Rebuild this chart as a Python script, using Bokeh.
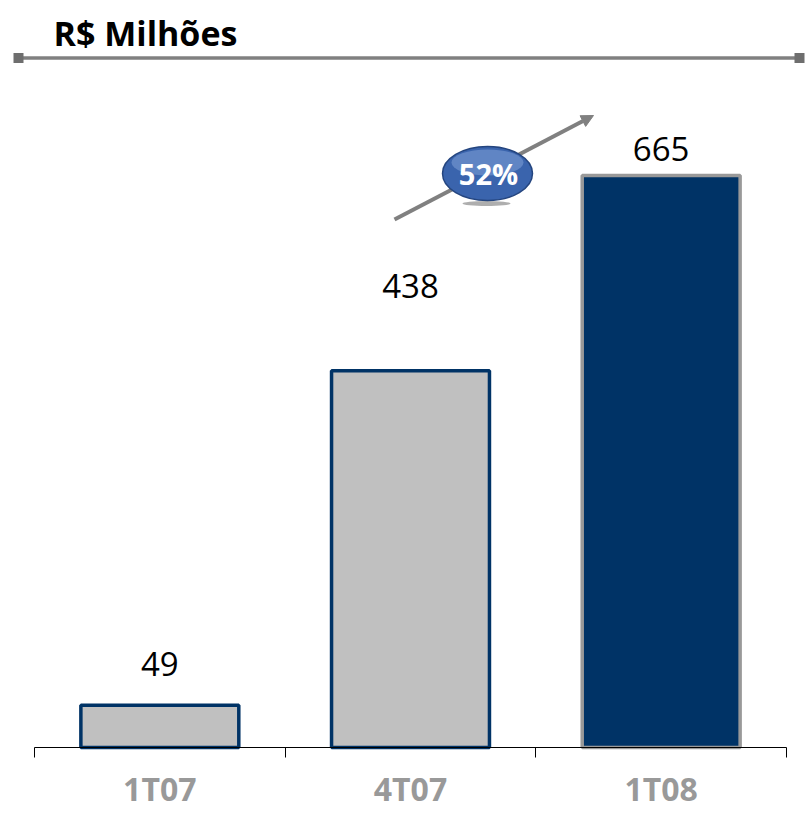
from bokeh.plotting import figure
from bokeh.models import Range1d, FixedTicker, ColumnDataSource, Arrow, NormalHead
from bokeh.core.properties import value
from bokeh.embed import file_html
from bokeh.resources import INLINE

# ---- data ----
categories = ["1T07", "4T07", "1T08"]
values = [49, 438, 665]
growth_label = "52%"
title_text = "R$ Milhões"

# ---- styles ----
bar_fill = ["#C0C0C0", "#C0C0C0", "#003366"]
bar_line = ["#003366", "#003366", "#999999"]
label_offsets_px = [-41, -85, -27]

PX_PER_X = 250.67
PX_PER_Y = 0.86
W, H = 807, 813
BASE_Y = 747     # pixel row of the baseline
LEFT_X = 34      # pixel column of x = 0

xs = [i + 0.5 for i in range(len(categories))]

p = figure(width=W, height=H, output_backend="svg", toolbar_location=None,
           x_range=Range1d(-LEFT_X / PX_PER_X, (W - LEFT_X) / PX_PER_X),
           y_range=Range1d(-(H - BASE_Y) / PX_PER_Y, BASE_Y / PX_PER_Y),
           y_axis_location=None,
           min_border_left=0, min_border_right=0, min_border_top=0,
           min_border_bottom=0)
p.outline_line_color = None
p.grid.visible = False
p.background_fill_color = "white"
p.border_fill_color = "white"

ax = p.xaxis[0]
ax.fixed_location = 0
ax.ticker = FixedTicker(ticks=xs, minor_ticks=list(range(len(categories) + 1)))
ax.major_label_overrides = {x: c for x, c in zip(xs, categories)}
ax.bounds = (0, len(categories))
ax.axis_line_color = "black"
ax.axis_line_width = 1
ax.major_tick_out = 0
ax.major_tick_in = 0
ax.minor_tick_out = 10
ax.minor_tick_in = 0
ax.minor_tick_line_color = "black"
ax.major_label_standoff = 9
ax.major_label_text_font = "Open Sans"
ax.major_label_text_font_style = "bold"
ax.major_label_text_font_size = "32px"
ax.major_label_text_color = "#999999"


def dx(px):
    return (px - LEFT_X) / PX_PER_X


def dy(py):
    return (BASE_Y - py) / PX_PER_Y


# growth arrow (behind the badge)
p.add_layout(Arrow(x_start=dx(394), y_start=dy(219), x_end=dx(593), y_end=dy(115),
                   line_color="#808080", line_width=4, level="underlay",
                   end=NormalHead(size=12, fill_color="#808080", line_color="#808080")))

src = ColumnDataSource(dict(x=xs, top=values, fill=bar_fill, line=bar_line,
                            lab=[str(v) for v in values], off=label_offsets_px))
p.vbar(x="x", top="top", width=0.63, bottom=0, source=src,
       fill_color="fill", line_color="line", line_width=3.5)
p.text(x="x", y="top", text="lab", y_offset="off", source=src,
       text_align="center", text_baseline="middle",
       text_font=value("Open Sans"), text_font_size="33px", text_color="black")

# title and rule
p.text(x=[dx(53)], y=[dy(32)], text=[title_text], text_align="left",
       text_baseline="middle", text_font=value("Open Sans"),
       text_font_style="bold", text_font_size="34px", text_color="black")
p.segment(x0=[dx(18)], y0=[dy(57.5)], x1=[dx(798)], y1=[dy(57.5)],
          line_color="#808080", line_width=3.5)
p.rect(x=[dx(18), dx(799)], y=[dy(57.5)] * 2, width=10, height=10,
       width_units="screen", height_units="screen",
       fill_color="#6e6e6e", line_color=None)

# badge
p.ellipse(x=[dx(486)], y=[dy(203)], width=48, height=5,
          width_units="screen", height_units="screen",
          fill_color="#9a9a9a", line_color=None, alpha=0.8)
p.ellipse(x=[dx(487)], y=[dy(173)], width=90, height=54,
          width_units="screen", height_units="screen",
          fill_color="#3a64ad", line_color="#24457f", line_width=1.5)
p.ellipse(x=[dx(487)], y=[dy(162)], width=72, height=26,
          width_units="screen", height_units="screen",
          fill_color="#86a6dc", line_color=None, alpha=0.5)
p.text(x=[dx(488)], y=[dy(173)], text=[growth_label], text_align="center",
       text_baseline="middle", text_font=value("Open Sans"),
       text_font_style="bold", text_font_size="29px", text_color="white")

open("out.html", "w").write(file_html(p, INLINE))
